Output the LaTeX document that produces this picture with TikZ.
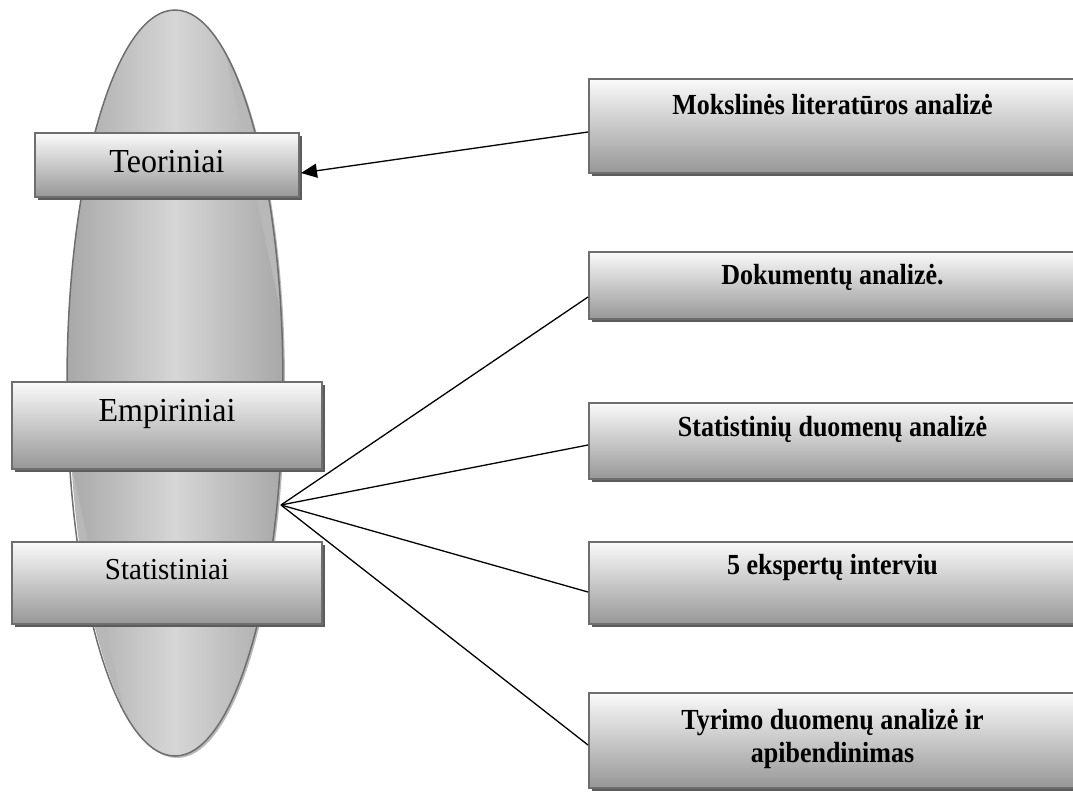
\documentclass[tikz,border=0pt]{standalone}
\usepackage{fontspec}
\setmainfont{Liberation Serif}
\usetikzlibrary{shadows,arrows.meta,calc,shapes.geometric}
\definecolor{edge}{HTML}{6E6E6E}
\definecolor{boxtop}{HTML}{FAFAFA}
\definecolor{boxbot}{HTML}{979797}
\definecolor{elldark}{HTML}{7A7A7A}
\definecolor{elllight}{HTML}{D6D6D6}
\definecolor{shad}{HTML}{5C5C5C}
\definecolor{ellshad}{HTML}{B8B8B8}
\newcommand{\tallL}[1]{\scalebox{1}[1.05]{#1}}
\newcommand{\tallR}[1]{\scalebox{1}[1.12]{#1}}
\tikzset{
  box/.style={rectangle, draw=edge, line width=2pt, top color=boxtop, bottom color=boxbot,
    inner sep=0pt, drop shadow={shadow xshift=3pt, shadow yshift=-3pt, fill=shad, opacity=1}},
  ltext/.style={anchor=base, inner sep=0pt, font=\fontsize{32}{38}\selectfont},
  rtext/.style={anchor=base, inner sep=0pt, font=\fontsize{26}{33}\selectfont\bfseries},
  conn/.style={line width=1.3pt, draw=black},
}
\begin{document}
\begin{tikzpicture}[x=1pt,y=1pt]
\useasboundingbox (0,0) rectangle (1073,-792);
\clip (0,0) rectangle (1073,-792);
% ellipse
\fill[ellshad] (177,-385) ellipse [x radius=108, y radius=373];
\begin{scope}
  \clip (175,-383) ellipse [x radius=108, y radius=373];
  \shade[left color=elldark, right color=elldark, middle color=elllight,
     rotate around={12:(175,-383)}] (57,-863) rectangle (293,97);
\end{scope}
\node[ellipse, draw=edge, line width=1.5pt, minimum width=216pt, minimum height=746pt, inner sep=0pt]
  (ell) at (175,-383) {};
\coordinate (hub) at (281,-505);
% left boxes
\node[box, minimum width=264pt, minimum height=64pt] (teo) at (167,-165) {};
\node[box, minimum width=310pt, minimum height=87pt] (emp) at (167,-425.5) {};
\node[box, minimum width=310pt, minimum height=82pt] (sta) at (167,-583) {};
% right boxes
\node[box, minimum width=487pt, minimum height=94pt] (mok) at (832.5,-126) {};
\node[box, minimum width=487pt, minimum height=67pt] (dok) at (832.5,-285.5) {};
\node[box, minimum width=487pt, minimum height=76pt] (sdu) at (832.5,-441) {};
\node[box, minimum width=487pt, minimum height=82pt] (eks) at (832.5,-583) {};
\node[box, minimum width=487pt, minimum height=95pt] (tyr) at (832.5,-740.5) {};
% connectors
\draw[conn, -{Triangle[length=16pt,width=14pt]}] ($(mok.west)+(0,-6)$) -- ($(teo.east)+(1,-8)$);
\draw[conn] (hub) -- ($(dok.west)+(0,-11.5)$);
\draw[conn] (hub) -- ($(sdu.west)+(0,-4)$);
\draw[conn] (hub) -- ($(eks.west)+(0,-9)$);
\draw[conn] (hub) -- ($(tyr.west)+(0,-4.5)$);
% texts
\node[ltext] (teot) at ($(teo.north)+(0,-40)$) {\tallL{Teoriniai}};
\node[ltext] (empt) at ($(emp.north)+(0,-40)$) {\tallL{Empiriniai}};
\node[ltext, font=\fontsize{29}{35}\selectfont] (stat) at ($(sta.north)+(0,-38)$) {\tallL{Statistiniai}};
\node[rtext] (mokt) at ($(mok.north)+(0,-36)$) {\tallR{Mokslinės literatūros analizė}};
\node[rtext] (dokt) at ($(dok.north)+(0,-33)$) {\tallR{Dokumentų analizė.}};
\node[rtext] (sdut) at ($(sdu.north)+(0,-34)$) {\tallR{Statistinių duomenų analizė}};
\node[rtext] (ekst) at ($(eks.north)+(0,-33)$) {\tallR{5 ekspertų interviu}};
\node[rtext] (tyrt1) at ($(tyr.north)+(0,-37)$) {\tallR{Tyrimo duomenų analizė ir}};
\node[rtext] (tyrt2) at ($(tyr.north)+(0,-70)$) {\tallR{apibendinimas}};
\end{tikzpicture}
\end{document}
